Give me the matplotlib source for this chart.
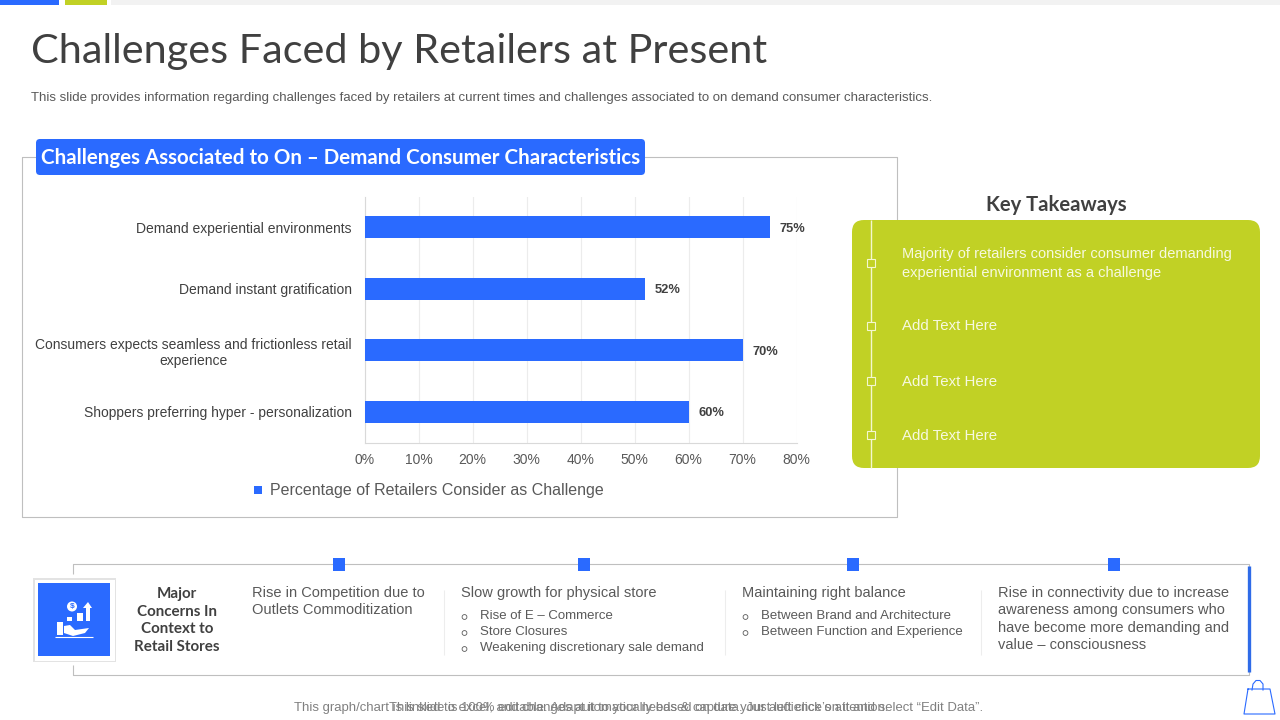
import matplotlib
matplotlib.use("Agg")
from matplotlib.patches import FancyBboxPatch, Polygon, Rectangle, Circle
from matplotlib.pyplot import figure, rcParams

BLUE = "#2A6AFF"
GREEN = "#C1D125"
GREY_LINE = "#BFBFBF"
TEXT = "#595959"
BODY_FONT = "Liberation Sans"
TITLE_FONT = "Lato"

categories = [
    "Demand experiential environments",
    "Demand instant gratification",
    "Consumers expects seamless and frictionless retail\nexperience",
    "Shoppers preferring hyper - personalization",
]
values = [75, 52, 70, 60]
x_ticks = [0, 10, 20, 30, 40, 50, 60, 70, 80]
series_name = "Percentage of Retailers Consider as Challenge"

title = "Challenges Faced by Retailers at Present"
subtitle = ("This slide provides information regarding challenges faced by retailers "
            "at current times and challenges associated to on demand consumer characteristics.")
chart_title = "Challenges Associated to On \u2013 Demand Consumer Characteristics"
takeaways = [
    "Majority of retailers consider consumer demanding\nexperiential environment as a challenge",
    "Add Text Here",
    "Add Text Here",
    "Add Text Here",
]
concerns = "Major\nConcerns In\nContext to\nRetail Stores"
competition = "Rise in Competition due to\nOutlets Commoditization"
slow_growth = "Slow growth for physical store"
slow_growth_items = ["Rise of E \u2013 Commerce", "Store Closures", "Weakening discretionary sale demand"]
balance = "Maintaining right balance"
balance_items = ["Between Brand and Architecture", "Between Function and Experience"]
connectivity = ("Rise in connectivity due to increase\nawareness among consumers who\n"
                "have become more demanding and\nvalue \u2013 consciousness")
footer_1 = "This graph/chart is linked to excel, and changes automatically based on data. Just left click on it and select \u201cEdit Data\u201d."
footer_2 = "This slide is 100% editable. Adapt it to your needs & capture your audience\u2019s attention."


def rect(ax, x0, y0, x1, y1, color, zorder=2):
    ax.add_patch(Rectangle((x0, y0), x1 - x0, y1 - y0, facecolor=color, edgecolor="none", zorder=zorder))


def line(ax, xs, ys, color=GREY_LINE, width=0.8, zorder=1):
    ax.plot(xs, ys, color=color, linewidth=width, zorder=zorder, solid_capstyle="butt")


def label(ax, x, y, text, size, color=TEXT, font=BODY_FONT, **kwargs):
    kwargs.setdefault("va", "center")
    ax.text(x, y, text, fontsize=size, color=color, family=font, **kwargs)


def bullet(ax, x, y):
    ax.add_patch(Circle((x, y), 2.4, facecolor="none", edgecolor=TEXT, linewidth=0.6, zorder=3))


def draw_header(ax):
    rect(ax, 0, 0, 59, 5, BLUE)
    rect(ax, 65, 0, 107, 5, GREEN)
    rect(ax, 111, 0, 1280, 5, "#F2F2F2")
    label(ax, 31, 52, title, 29.8, color="#404040", font=TITLE_FONT)
    label(ax, 31, 98.5, subtitle, 9.5)


def draw_frame(ax):
    line(ax, [22, 897, 897, 22, 22], [157, 157, 517, 517, 157])
    ax.add_patch(FancyBboxPatch((39, 142), 603, 30, boxstyle="round,pad=3,rounding_size=4",
                                facecolor=BLUE, edgecolor="none", zorder=3))
    label(ax, 340.5, 157.5, chart_title, 14.8, color="white", font=TITLE_FONT,
          fontweight="bold", ha="center", zorder=4)


def draw_chart(fig):
    ax = fig.add_axes([364.5 / 1280, 1 - 442.5 / 720, 432 / 1280, 246 / 720])
    positions = list(range(len(categories)))
    ax.barh(positions, values, height=0.35, color=BLUE, zorder=3)
    ax.set_xlim(0, 80)
    ax.set_ylim(len(categories) - 0.5, -0.5)
    ax.set_xticks(x_ticks)
    ax.set_xticklabels([f"{t}%" for t in x_ticks], fontsize=10, color=TEXT, family=BODY_FONT)
    ax.set_yticks(positions)
    ax.set_yticklabels(categories, fontsize=10, color="#404040", family=BODY_FONT,
                       multialignment="center", linespacing=1.2)
    ax.tick_params(axis="x", length=0, pad=7.5)
    ax.tick_params(axis="y", length=0, pad=9)
    ax.grid(axis="x", color="#ECECEC", linewidth=0.8, zorder=0)
    ax.set_axisbelow(True)
    for name in ("top", "right"):
        ax.spines[name].set_visible(False)
    for name in ("left", "bottom"):
        ax.spines[name].set_color("#D9D9D9")
    for pos, value in zip(positions, values):
        ax.annotate(f"{value}%", (value, pos), xytext=(7, -1), textcoords="offset points",
                    va="center", fontsize=9.3, fontweight="bold", color="#404040", family=BODY_FONT)
    return ax


def draw_legend(ax):
    rect(ax, 254, 486, 262, 494, BLUE)
    label(ax, 270, 490, series_name, 11.5)


def draw_takeaways(ax):
    label(ax, 1056.5, 205, "Key Takeaways", 14.6, color="#404040", font=TITLE_FONT,
          fontweight="bold", ha="center")
    ax.add_patch(FancyBboxPatch((864, 232), 384, 224, boxstyle="round,pad=12,rounding_size=12",
                                facecolor=GREEN, edgecolor="none", zorder=3))
    line(ax, [871, 871], [220, 468], color="#F4F7D0", width=1, zorder=4)
    for y, text in zip([263, 326, 381, 435], takeaways):
        ax.add_patch(Rectangle((867, y - 4), 8, 8, facecolor=GREEN, edgecolor="#F4F7D0", linewidth=0.8, zorder=5))
        size = 10.5 if "\n" in text else 10.8
        label(ax, 902.5, y + 0.5, text, size, color="#F7F9E0", zorder=5, linespacing=1.42)


def draw_icon(ax):
    rect(ax, 33, 578, 116, 662, "#E3E3E3", zorder=2)
    rect(ax, 34.5, 579.5, 114.5, 660.5, "white", zorder=2)
    rect(ax, 38, 583, 110, 656, BLUE, zorder=3)
    for x0, y0, x1 in [(67, 617, 72), (77, 613, 83), (86, 608, 90)]:
        rect(ax, x0, y0, x1, 621, "white", zorder=4)
    ax.add_patch(Circle((72, 606.5), 5, facecolor="white", edgecolor="none", zorder=4))
    label(ax, 72, 606.5, "$", 6, color=BLUE, ha="center", fontweight="bold", zorder=5)
    ax.add_patch(Polygon([[83, 608], [88, 602], [92, 608]], facecolor="white", zorder=4))
    rect(ax, 57, 622, 63, 635, "white", zorder=4)
    ax.add_patch(Polygon([[64, 626], [70, 625], [75, 630], [89, 628], [85, 633], [73, 636], [64, 633]],
                         facecolor="white", zorder=4))
    line(ax, [55, 93], [637, 637], color="white", zorder=4)


def draw_concerns(ax):
    line(ax, [73, 73, 1249, 1249, 73, 73], [574, 564, 564, 675, 675, 665])
    line(ax, [1249, 1249], [566, 672], color="#2F6BE8", width=2.4, zorder=2)
    for x in [339, 584, 853, 1114]:
        rect(ax, x - 6, 558, x + 6, 571, BLUE)
    for x in [444, 725, 981]:
        line(ax, [x, x], [590, 655], color="#EDEDED")
    draw_icon(ax)
    label(ax, 177, 620.5, concerns, 10.9, color="#404040", font=TITLE_FONT, fontweight="bold",
          ha="center", multialignment="center", linespacing=1.34)
    label(ax, 252, 601.5, competition, 10.55, linespacing=1.32)
    label(ax, 461, 592.5, slow_growth, 10.5)
    for y, item in zip([616, 632, 648], slow_growth_items):
        bullet(ax, 464.5, y + 1)
        label(ax, 480, y, item, 9.5)
    label(ax, 742, 592.5, balance, 10.5)
    for y, item in zip([616, 632], balance_items):
        bullet(ax, 745.5, y + 1)
        label(ax, 761, y, item, 9.5)
    label(ax, 998, 619, connectivity, 10.5, linespacing=1.32)


def draw_footer(ax):
    label(ax, 639, 707.5, footer_1, 9.45, color="#808080", ha="center")
    label(ax, 638.5, 708.5, footer_2, 9.4, color="#808080", ha="center")
    ax.plot([1248, 1244, 1275, 1270, 1248], [689, 714, 714, 689, 689], color=BLUE, linewidth=0.8, zorder=2)
    ax.plot([1252, 1253, 1256, 1260, 1263, 1263], [690, 684, 680.5, 680.5, 684, 690], color=BLUE, linewidth=0.8, zorder=2)


def main():
    rcParams["font.family"] = [BODY_FONT, "DejaVu Sans"]
    fig = figure(figsize=(12.8, 7.2), dpi=100, facecolor="white")
    slide = fig.add_axes([0, 0, 1, 1])
    slide.set_xlim(0, 1280)
    slide.set_ylim(720, 0)
    slide.axis("off")

    draw_header(slide)
    draw_frame(slide)
    draw_legend(slide)
    draw_takeaways(slide)
    draw_concerns(slide)
    draw_footer(slide)
    chart = draw_chart(fig)
    chart.patch.set_alpha(0)

    fig.savefig("out.png", dpi=100)


if __name__ == "__main__":
    main()
